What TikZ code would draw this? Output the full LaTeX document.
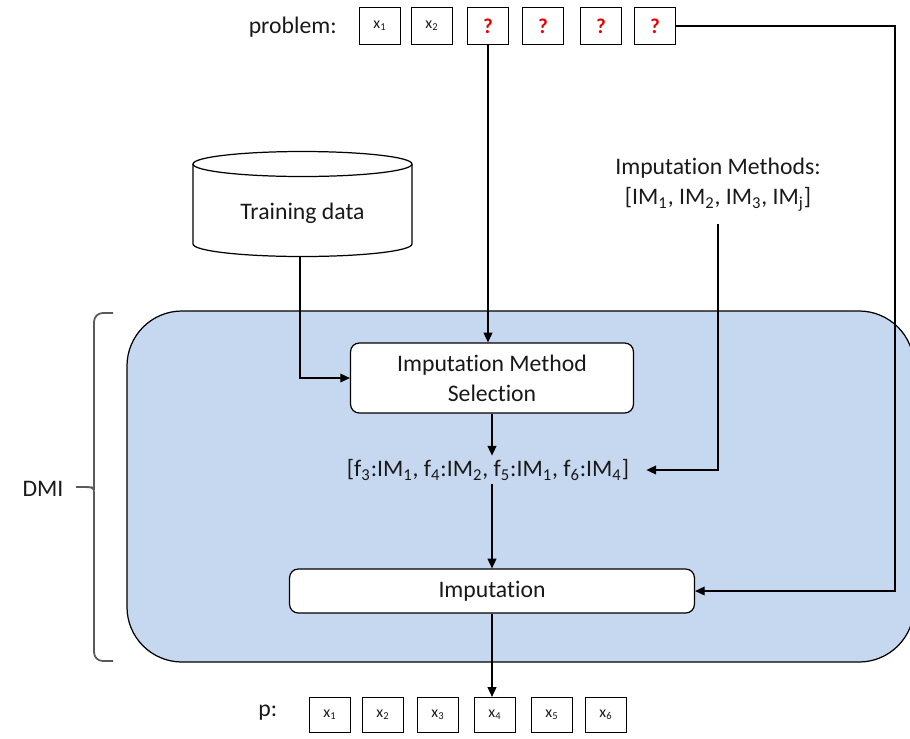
\documentclass[tikz,border=0pt]{standalone}
\usepackage{fontspec}
\setmainfont{Carlito}[Ligatures=CommonOff, RawFeature={-liga;-calt;-clig;-dlig}]
\usetikzlibrary{arrows.meta}
\definecolor{dmiblue}{RGB}{198,216,240}
\definecolor{qred}{RGB}{230,0,0}
\definecolor{txtc}{RGB}{25,25,25}
\newcommand{\sbs}[1]{\textsubscript{#1}}
\begin{document}
\begin{tikzpicture}[x=0.02cm,y=-0.02cm,
  every node/.style={text=txtc},
  txt/.style={font=\fontsize{13.5}{17}\selectfont, inner sep=0pt, align=center},
  cell/.style={draw, line width=0.7pt, minimum width=0.82cm, minimum height=0.74cm, inner sep=0pt, font=\fontsize{9}{10}\selectfont},
  bcell/.style={cell, minimum height=0.70cm},
  qcell/.style={cell, font=\fontsize{12}{14}\selectfont\bfseries, text=qred},
  rbox/.style={draw, fill=white, line width=0.7pt, rounded corners=5pt, inner sep=0pt, font=\fontsize{13.5}{17}\selectfont, align=center},
  arr/.style={line width=0.75pt, -{Triangle[length=5.5pt,width=5pt]}},
  ln/.style={line width=0.7pt}
]
\useasboundingbox (0,0) rectangle (910,738);
% DMI container
\begin{scope}
\clip (0,0) rectangle (910,738);
\draw[ln, fill=dmiblue, rounded corners=1.1cm] (127,311) rectangle (914,662);
\end{scope}
% brace
\draw[line width=1pt, gray!70!black] (113,313) [rounded corners=5pt] -- (94,313) -- (94,481) [sharp corners] .. controls (94,487) .. (76,487) .. controls (94,487) .. (94,493) [rounded corners=5pt] -- (94,661) -- (113,661);
\node[txt] (dmi) at (43,489) {DMI};

% problem row
\node[txt, anchor=east] (problem) at (337,27) {problem:};
\node[cell] (c1) at (380,26) {x\sbs{1}};
\node[cell] (c2) at (432,26) {x\sbs{2}};
\node[qcell] (q1) at (488,26) {?};
\node[qcell] (q2) at (543,26) {?};
\node[qcell] (q3) at (601,26) {?};
\node[qcell] (q4) at (655,26) {?};
\coordinate (rt) at (895,26);

% training data cylinder
\draw[ln, fill=white] (193,164) -- (193,244) arc[start angle=180, end angle=360, x radius=2.19cm, y radius=0.25cm] -- (412,164);
\draw[ln, fill=white] (302.5,164) ellipse [x radius=2.19cm, y radius=0.25cm];
\node[txt] (train) at (302.5,213) {Training data};
\coordinate (trainbot) at (300,256.5);

% imputation methods
\node[txt] (im) at (718,185) {Imputation Methods:\\{}[IM\sbs{1}, IM\sbs{2}, IM\sbs{3}, IM\sbs{j}]};
\coordinate (imbot) at (718,224);

% selection box
\node[rbox, minimum width=5.66cm, minimum height=1.4cm] (sel) at (492,378) {Imputation Method\\Selection};

% list
\node[txt, inner xsep=0.34cm, inner ysep=2pt] (list) at (488,470) {[f\sbs{3}:IM\sbs{1}, f\sbs{4}:IM\sbs{2}, f\sbs{5}:IM\sbs{1}, f\sbs{6}:IM\sbs{4}]};

% imputation box
\node[rbox, minimum width=8.1cm, minimum height=0.88cm] (imp) at (492,591) {Imputation};

% output row
\node[txt, anchor=west] (p) at (258,713) {p:};
\node[bcell] (p1) at (330,715) {x\sbs{1}};
\node[bcell] (p2) at (383,715) {x\sbs{2}};
\node[bcell] (p3) at (438,715) {x\sbs{3}};
\node[bcell] (p4) at (495,715) {x\sbs{4}};
\node[bcell] (p5) at (552,715) {x\sbs{5}};
\node[bcell] (p6) at (606,715) {x\sbs{6}};

% connectors
\draw[arr] (q1.south) -- (q1.south |- sel.north);
\draw[arr] (trainbot) |- (sel.west);
\draw[arr] (sel.south) -- (sel.south |- list.north);
\draw[arr] (imbot) |- (list.east);
\draw[arr] (list.south -| sel.south) -- (sel.south |- imp.north);
\draw[arr] (q4.east) -- (rt) |- (imp.east);
\draw[arr] (imp.south) -- (imp.south |- p4.north);
\end{tikzpicture}
\end{document}
